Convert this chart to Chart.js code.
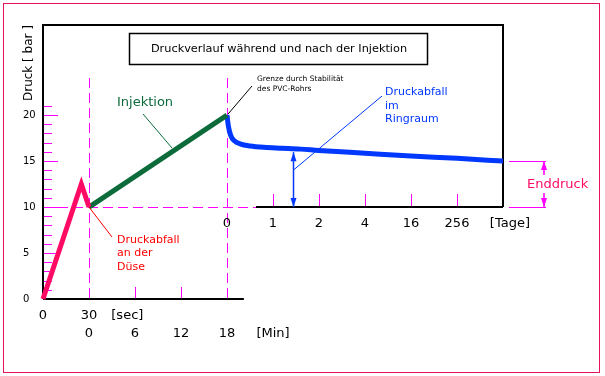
<!DOCTYPE html>
<html>
<head>
<meta charset="utf-8">
<script src="https://cdn.jsdelivr.net/npm/chart.js@4/dist/chart.umd.min.js"></script>
<style>
  html, body { margin: 0; padding: 0; background: #fff; }
</style>
</head>
<body>
<canvas id="chart" width="605" height="376"></canvas>
<script>
// tick labels
const pressureTicks = [0, 5, 10, 15, 20];
const secTicks = [0, 30];
const minTicks = [0, 6, 12, 18];
const dayTicks = ['0', '1', '2', '4', '16', '256'];

// nozzle phase (x in seconds)
const nozzleSec = [0, 25, 30];
const nozzleBar = [0, 12.5, 10];
// injection phase (x in minutes)
const injectMin = [0, 18];
const injectBar = [10, 20];
// annulus phase (x = position on the day axis: 0,1,2,4,16,256)
const annulusPos = [0, 0.03, 0.08, 0.16, 0.3, 0.5, 0.8, 1.2, 1.6, 2, 3, 4, 5, 6];
const annulusBar = [20, 18.8, 17.8, 17.2, 16.85, 16.65, 16.5, 16.4, 16.3, 16.15, 15.85, 15.55, 15.3, 15.0];

const pink = '#ff0a64';
const green = '#0b6b3a';
const blue = '#0038ff';
const magenta = '#ff00ff';
const border = '#e8105f';
const FONT = '"DejaVu Sans", sans-serif';

function toXY(xs, ys) {
  return xs.map((x, i) => ({ x: x, y: ys[i] }));
}

function arrow(ctx, x, tipY, dir, color) {
  // dir = -1 points up, 1 points down
  ctx.fillStyle = color;
  ctx.beginPath();
  ctx.moveTo(x, tipY);
  ctx.lineTo(x - 3, tipY - dir * 9);
  ctx.lineTo(x + 3, tipY - dir * 9);
  ctx.closePath();
  ctx.fill();
}

function line(ctx, x1, y1, x2, y2) {
  ctx.beginPath();
  ctx.moveTo(x1, y1);
  ctx.lineTo(x2, y2);
  ctx.stroke();
}

// crisp 1px axis-aligned lines, optionally dashed
function hline(ctx, x1, x2, y, dash) {
  y = Math.round(y);
  if (!dash) { ctx.fillRect(Math.round(x1), y, Math.round(x2 - x1), 1); return; }
  for (let x = x1; x < x2; x += dash[0] + dash[1]) {
    ctx.fillRect(Math.round(x), y, Math.round(Math.min(dash[0], x2 - x)), 1);
  }
}
function vline(ctx, x, y1, y2, dash) {
  x = Math.round(x);
  if (!dash) { ctx.fillRect(x, Math.round(y1), 1, Math.round(y2 - y1)); return; }
  for (let y = y1; y < y2; y += dash[0] + dash[1]) {
    ctx.fillRect(x, Math.round(y), 1, Math.round(Math.min(dash[0], y2 - y)));
  }
}

const drawing = {
  id: 'drawing',
  beforeDraw(chart) {
    const ctx = chart.ctx;
    ctx.save();
    ctx.fillStyle = '#fff';
    ctx.fillRect(0, 0, chart.width, chart.height);
    ctx.fillStyle = border;
    hline(ctx, 3, 600, 3);
    hline(ctx, 3, 600, 372);
    vline(ctx, 3, 3, 373);
    vline(ctx, 599, 3, 373);
    ctx.restore();
  },
  beforeDatasetsDraw(chart) {
    const ctx = chart.ctx;
    const a = chart.chartArea;
    const y = chart.scales.y, xs = chart.scales.xSec, xm = chart.scales.xMin, xd = chart.scales.xDay;
    const y10 = y.getPixelForValue(10);
    const y0 = y.getPixelForValue(0);
    const leftEnd = xm.getPixelForValue(20.2);
    const rightStart = xd.getPixelForValue(0.63);
    ctx.save();

    // dashed guides
    ctx.fillStyle = magenta;
    vline(ctx, xs.getPixelForValue(secTicks[1]), 78, y0, [10, 5]);
    vline(ctx, xm.getPixelForValue(18), 78, y0, [10, 5]);
    hline(ctx, a.left, rightStart, y10, [10, 5]);

    // pressure ticks
    for (let v = 0; v <= 21; v++) {
      hline(ctx, a.left, a.left + (v % 5 === 0 ? 15 : 9), y.getPixelForValue(v));
    }
    // minute ticks
    minTicks.slice(1, 3).forEach(v => vline(ctx, xm.getPixelForValue(v), y0 - 12, y0));
    // day ticks
    dayTicks.forEach((t, i) => {
      if (i > 0) vline(ctx, xd.getPixelForValue(i), y10 - 13, y10);
    });

    // frame
    ctx.strokeStyle = '#000';
    ctx.lineWidth = 2;
    ctx.beginPath();
    ctx.moveTo(a.left, y0);
    ctx.lineTo(a.left, a.top);
    ctx.lineTo(a.right, a.top);
    ctx.lineTo(a.right, y10);
    ctx.stroke();
    line(ctx, a.left, y0, leftEnd, y0);
    line(ctx, rightStart, y10, a.right, y10);

    // title box
    ctx.lineWidth = 1.5;
    ctx.strokeRect(129.5, 33.5, 298, 31);
    ctx.fillStyle = '#000';
    ctx.font = '11.3px ' + FONT;
    ctx.textAlign = 'center';
    ctx.textBaseline = 'middle';
    ctx.fillText('Druckverlauf während und nach der Injektion', 279, 49);

    // y labels
    ctx.font = '10px ' + FONT;
    ctx.textAlign = 'left';
    pressureTicks.forEach(v => ctx.fillText(String(v), 23, y.getPixelForValue(v)));

    // y title
    ctx.save();
    ctx.translate(29, 63);
    ctx.rotate(-Math.PI / 2);
    ctx.font = '12px ' + FONT;
    ctx.textAlign = 'center';
    ctx.fillText('Druck [ bar ]', 0, 0);
    ctx.restore();

    // x labels
    ctx.font = '13px ' + FONT;
    ctx.textAlign = 'center';
    secTicks.forEach(v => ctx.fillText(String(v), xs.getPixelForValue(v), 316));
    ctx.fillText('[sec]', xs.getPixelForValue(55), 316);
    minTicks.forEach(v => ctx.fillText(String(v), xm.getPixelForValue(v), 334));
    ctx.fillText('[Min]', xm.getPixelForValue(24), 334);
    dayTicks.forEach((t, i) => ctx.fillText(t, xd.getPixelForValue(i), 224));
    ctx.fillText('[Tage]', xd.getPixelForValue(6.15), 224);
    ctx.restore();
  },
  afterDatasetsDraw(chart) {
    const ctx = chart.ctx;
    const y = chart.scales.y, xs = chart.scales.xSec, xm = chart.scales.xMin, xd = chart.scales.xDay;
    const y10 = y.getPixelForValue(10);
    ctx.save();
    ctx.lineWidth = 1;
    ctx.textAlign = 'left';
    ctx.textBaseline = 'middle';

    // Injektion
    ctx.fillStyle = green;
    ctx.strokeStyle = green;
    ctx.font = '13px ' + FONT;
    ctx.fillText('Injektion', 117, 103);
    line(ctx, 143, 114, 172, 148);

    // Grenze durch Stabilitaet
    ctx.fillStyle = '#000';
    ctx.strokeStyle = '#000';
    ctx.font = '7.5px ' + FONT;
    ctx.fillText('Grenze durch Stabilität', 257, 79);
    ctx.fillText('des PVC-Rohrs', 257, 89);
    const px18 = xm.getPixelForValue(injectMin[1]);
    line(ctx, px18 + 1, y.getPixelForValue(injectBar[1]) - 1, 252, 86);

    // Druckabfall an der Duese
    ctx.fillStyle = '#ff0000';
    ctx.strokeStyle = '#ff0000';
    ctx.font = '11px ' + FONT;
    ctx.fillText('Druckabfall', 117, 240);
    ctx.fillText('an der', 117, 253);
    ctx.fillText('Düse', 117, 267);
    line(ctx, xs.getPixelForValue(30), y10, 112, 237);

    // Druckabfall im Ringraum
    const mx = Math.round(xd.getPixelForValue(1.43)) + 0.5;
    const my = y.getPixelForValue(16.3) + 3;
    ctx.fillStyle = blue;
    ctx.strokeStyle = blue;
    ctx.fillText('Druckabfall', 385, 92);
    ctx.fillText('im', 385, 106);
    ctx.fillText('Ringraum', 385, 119);
    line(ctx, 382, 96, mx, 170);
    ctx.lineWidth = 1.5;
    line(ctx, mx, my, mx, y10);
    arrow(ctx, mx, my, -1, blue);
    arrow(ctx, mx, y10, 1, blue);

    // Enddruck
    const yEnd = y.getPixelForValue(annulusBar[annulusBar.length - 1]);
    ctx.fillStyle = magenta;
    hline(ctx, 509, 546, yEnd);
    hline(ctx, 509, 546, y10);
    ctx.strokeStyle = magenta;
    ctx.lineWidth = 1.5;
    line(ctx, 544, yEnd, 544, yEnd + 14);
    line(ctx, 544, y10, 544, y10 - 14);
    arrow(ctx, 544, yEnd, -1, magenta);
    arrow(ctx, 544, y10, 1, magenta);
    ctx.fillStyle = pink;
    ctx.font = '13px ' + FONT;
    ctx.fillText('Enddruck', 527, 185);
    ctx.restore();
  }
};

new Chart(document.getElementById('chart'), {
  type: 'line',
  data: {
    datasets: [
      {
        label: 'Druckabfall an der Düse',
        data: toXY(nozzleSec, nozzleBar),
        xAxisID: 'xSec',
        borderColor: pink,
        borderWidth: 5,
        borderJoinStyle: 'miter',
        pointRadius: 0,
        tension: 0,
        clip: false
      },
      {
        label: 'Injektion',
        data: toXY(injectMin, injectBar),
        xAxisID: 'xMin',
        borderColor: green,
        borderWidth: 5,
        pointRadius: 0,
        tension: 0,
        clip: false
      },
      {
        label: 'Druckabfall im Ringraum',
        data: toXY(annulusPos, annulusBar),
        xAxisID: 'xDay',
        borderColor: blue,
        borderWidth: 5,
        pointRadius: 0,
        cubicInterpolationMode: 'monotone',
        clip: false
      }
    ]
  },
  options: {
    responsive: false,
    animation: false,
    devicePixelRatio: 1,
    layout: { padding: { left: 43, top: 25, right: 102, bottom: 77 } },
    plugins: {
      legend: { display: false },
      tooltip: { enabled: false }
    },
    scales: {
      xSec: { type: 'linear', axis: 'x', min: 0, max: 300, display: false },
      xMin: { type: 'linear', axis: 'x', min: -6, max: 54, display: false },
      xDay: { type: 'linear', axis: 'x', min: -4, max: 6, display: false },
      y: { type: 'linear', min: 0, max: 29.8, display: false }
    }
  },
  plugins: [drawing]
});
</script>
</body>
</html>
